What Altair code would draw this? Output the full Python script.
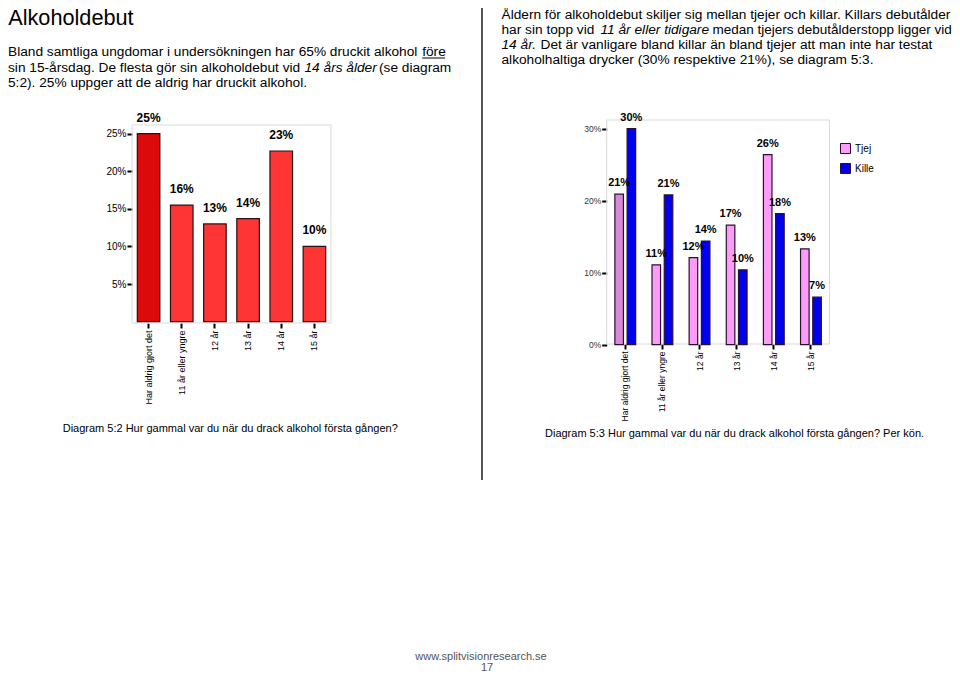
import altair as alt
import pandas as pd

# ---------------- data ----------------
age_groups = ["Har aldrig gjort det", "11 år eller yngre", "12 år", "13 år", "14 år", "15 år"]
total_pct = [25.0, 15.5, 13.0, 13.7, 22.7, 10.0]
total_labels = ["25%", "16%", "13%", "14%", "23%", "10%"]

genders = ["Tjej", "Kille"]
tjej_pct = [20.9, 11.1, 12.1, 16.6, 26.4, 13.3]
kille_pct = [30.0, 20.8, 14.4, 10.4, 18.2, 6.6]
tjej_labels = ["21%", "11%", "12%", "17%", "26%", "13%"]
kille_labels = ["30%", "21%", "14%", "10%", "18%", "7%"]

title_text = "Alkoholdebut"
left_para = [
    [("Bland samtliga ungdomar i undersökningen har 65% druckit alkohol ", "n"), ("före", "u")],
    [("sin 15-årsdag. De flesta gör sin alkoholdebut vid ", "n"), ("14 års ålder", "i"), ("(se diagram", "n")],
    [("5:2). 25% uppger att de aldrig har druckit alkohol.", "n")],
]
right_para = [
    [("Åldern för alkoholdebut skiljer sig mellan tjejer och killar. Killars debutålder", "n")],
    [("har sin topp vid ", "n"), ("11 år eller tidigare", "i"), ("medan tjejers debutålderstopp ligger vid", "r")],
    [("14 år.", "i"), ("Det är vanligare bland killar än bland tjejer att man inte har testat", "n")],
    [("alkoholhaltiga drycker (30% respektive 21%), se diagram 5:3.", "n")],
]
caption_left = "Diagram 5:2 Hur gammal var du när du drack alkohol första gången?"
caption_right = "Diagram 5:3 Hur gammal var du när du drack alkohol första gången? Per kön."
footer_lines = ["www.splitvisionresearch.se", "17"]

# ---------------- layout helpers ----------------
FONT = "Liberation Sans"
W, H = 944, 663  # whole page (960x679) minus the 8px body margin


def px(v):
    return v - 8  # page coordinate -> view coordinate


def txt(s, x, y, size=13.7, style="normal", weight="normal", color="#000000", align="left"):
    return alt.Chart(pd.DataFrame({"t": [s]})).mark_text(
        align=align, baseline="alphabetic", fontSize=size, font=FONT,
        fontStyle=style, fontWeight=weight, color=color
    ).encode(x=alt.value(px(x)), y=alt.value(px(y)), text="t:N")


layers = []

# divider line
layers.append(alt.Chart(pd.DataFrame({"k": [0]})).mark_rule(color="#555555", strokeWidth=2).encode(
    x=alt.value(px(482)), y=alt.value(0), y2=alt.value(px(480))))

# plot frames
for (x1, x2, y1, y2) in [(132, 331, 125, 323), (606.7, 829.5, 120, 344)]:
    layers.append(alt.Chart(pd.DataFrame({"k": [0]})).mark_rect(
        filled=False, stroke="#d9d9d9", strokeWidth=1).encode(
        x=alt.value(px(x1)), x2=alt.value(px(x2)), y=alt.value(px(y1)), y2=alt.value(px(y2))))

# texts
layers.append(txt(title_text, 8.2, 25, size=21.7))
LS = 5.5  # left column shift (svg starts at page x = 8)
left_pos = [[2.5, 416.7], [2.5, 299, 373.5], [2.5]]
left_base = [56, 71.5, 87]
for li, line in enumerate(left_para):
    for si, (s, st) in enumerate(line):
        layers.append(txt(s, left_pos[li][si] + LS, left_base[li], style="italic" if st == "i" else "normal"))
layers.append(alt.Chart(pd.DataFrame({"k": [0]})).mark_rule(color="#000000", strokeWidth=1).encode(
    x=alt.value(px(416.7 + LS)), x2=alt.value(px(439.6 + LS)), y=alt.value(px(58))))

right_pos = [[501.5], [501.5, 600.5, 951.8], [501.5, 540.5], [501.5]]
right_base = [19, 34.2, 49.3, 64.4]
for li, line in enumerate(right_para):
    for si, (s, st) in enumerate(line):
        if st == "r":
            layers.append(txt(s, right_pos[li][si], right_base[li], size=13.5, align="right"))
        else:
            layers.append(txt(s, right_pos[li][si], right_base[li], style="italic" if st == "i" else "normal"))

layers.append(txt(caption_left, 62.7, 432, size=11))
layers.append(txt(caption_right, 545, 437, size=11))
layers.append(txt(footer_lines[0], 481, 659.5, size=11, color="#555555", align="center"))
layers.append(txt(footer_lines[1], 487, 670.5, size=11, color="#555555", align="center"))

# ---------------- left chart ----------------
df_total = pd.DataFrame({
    "age": age_groups,
    "pct": total_pct,
    "label": total_labels,
    "shade": ["never"] + ["debut"] * 5,
})
lx_scale = alt.Scale(range=[px(132), px(331)], paddingInner=0.32, paddingOuter=0.16)
ly_scale = alt.Scale(domain=[0, 25], range=[px(321.6), px(133.7)], nice=False)
lx_axis = alt.Axis(orient="bottom", offset=px(323) - H, title=None, labelAngle=-90,
                   labelFontSize=9, labelFont=FONT, labelColor="#000000",
                   tickColor="#000000", tickWidth=2, tickSize=5, domain=False,
                   labelPadding=2, grid=False)
ly_axis = alt.Axis(orient="left", offset=-px(132), values=[5, 10, 15, 20, 25],
                   labelExpr="datum.value + '%'", title=None, grid=False, domain=False,
                   tickColor="#000000", tickWidth=2, tickSize=5, labelFontSize=10,
                   labelFont=FONT, labelColor="#000000", labelPadding=1)

left_bars = alt.Chart(df_total).mark_bar(stroke="#2a1010", strokeWidth=1.2).encode(
    x=alt.X("age:N", sort=age_groups, scale=lx_scale, axis=lx_axis),
    y=alt.Y("pct:Q", scale=ly_scale, axis=ly_axis),
    color=alt.Color("shade:N", scale=alt.Scale(domain=["never", "debut"], range=["#dc0a0a", "#ff3434"]),
                    legend=None),
)
left_labels = alt.Chart(df_total).mark_text(
    fontWeight="bold", fontSize=12, font=FONT, dy=-16, baseline="middle", color="#000000"
).encode(
    x=alt.X("age:N", sort=age_groups, scale=lx_scale, axis=lx_axis),
    y=alt.Y("pct:Q", scale=ly_scale, axis=ly_axis),
    text="label:N",
)
left = alt.layer(left_bars, left_labels)

# ---------------- right chart ----------------
rows = []
for i, a in enumerate(age_groups):
    rows.append({"age": a, "gender": "Tjej", "pct": tjej_pct[i], "label": tjej_labels[i],
                 "shade": "Tjej aldrig" if i == 0 else "Tjej"})
    rows.append({"age": a, "gender": "Kille", "pct": kille_pct[i], "label": kille_labels[i],
                 "shade": "Kille"})
df_gender = pd.DataFrame(rows)

rx_scale = alt.Scale(range=[px(606.7), px(829.5)], paddingInner=0.44, paddingOuter=0.22)
ry_scale = alt.Scale(domain=[0, 30], range=[px(344.7), px(128.7)], nice=False)
off_scale = alt.Scale(paddingInner=0.3, paddingOuter=0)
rx_axis = alt.Axis(orient="bottom", offset=px(344) - H, title=None, labelAngle=-90,
                   labelFontSize=8.5, labelFont=FONT, labelColor="#000000",
                   tickColor="#000000", tickWidth=2, tickSize=5, domain=False,
                   labelPadding=2, grid=False)
ry_axis = alt.Axis(orient="left", offset=-px(606.7), values=[0, 10, 20, 30],
                   labelExpr="datum.value + '%'", title=None, grid=False, domain=False,
                   tickColor="#000000", tickWidth=2, tickSize=5, labelFontSize=8.5,
                   labelFont=FONT, labelColor="#333333", labelPadding=1)

right_bars = alt.Chart(df_gender).mark_bar(stroke="#2a1030", strokeWidth=1.2).encode(
    x=alt.X("age:N", sort=age_groups, scale=rx_scale, axis=rx_axis),
    xOffset=alt.XOffset("gender:N", sort=genders, scale=off_scale),
    y=alt.Y("pct:Q", scale=ry_scale, axis=ry_axis),
    color=alt.Color("shade:N",
                    scale=alt.Scale(domain=["Tjej", "Kille", "Tjej aldrig"],
                                    range=["#fc9cf8", "#0000ee", "#d98ad6"]),
                    legend=alt.Legend(values=["Tjej", "Kille"], title=None, orient="none",
                                      legendX=px(840), legendY=px(143), symbolType="square",
                                      symbolSize=100, symbolStrokeColor="#2a1030",
                                      symbolStrokeWidth=1, labelFontSize=10, labelFont=FONT,
                                      labelColor="#000000", rowPadding=5, padding=0)),
)
right_labels = alt.Chart(df_gender).mark_text(
    fontWeight="bold", fontSize=11, font=FONT, dy=-11, baseline="middle", color="#000000"
).encode(
    x=alt.X("age:N", sort=age_groups, scale=rx_scale, axis=rx_axis),
    xOffset=alt.XOffset("gender:N", sort=genders, scale=off_scale),
    y=alt.Y("pct:Q", scale=ry_scale, axis=ry_axis),
    text="label:N",
)
right = alt.layer(right_bars, right_labels)

chart = alt.layer(*layers, left, right).resolve_scale(
    x="independent", y="independent", color="independent", xOffset="independent"
).properties(
    width=W, height=H, padding=0, autosize=alt.AutoSizeParams(type="none"),
    background="white",
).configure_view(stroke=None)

chart.save("out.html", embed_options={"renderer": "svg", "actions": False})
